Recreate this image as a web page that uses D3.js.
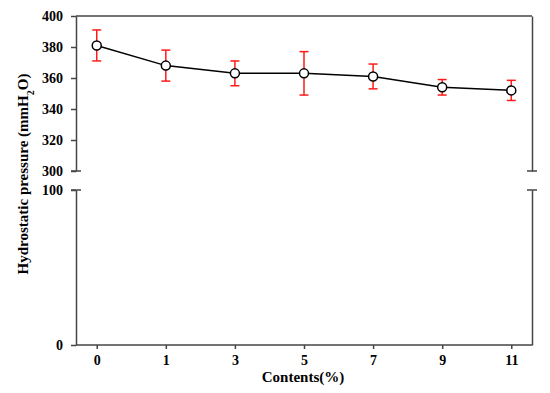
<!DOCTYPE html>
<html>
<head>
<meta charset="utf-8">
<script src="https://cdn.jsdelivr.net/npm/d3@7"></script>
<style>
  body { margin: 0; background: #fff; }
  svg { display: block; }
  .axis text { font-family: "Times New Roman", "Liberation Serif", Times, serif; font-weight: bold; font-size: 14px; fill: #000; }
  .axis path, .axis line { stroke: #444; stroke-width: 1.5px; }
</style>
</head>
<body>
<div id="chart"></div>
<script>
const contents = ["0", "1", "3", "5", "7", "9", "11"];
const pressure = [381, 368, 363, 363, 361, 354, 352];
const errLow  = [10, 10, 8, 14, 8, 5, 6.5];
const errHigh = [10, 10, 8, 14, 8, 5, 6.5];
const upperTicks = [300, 320, 340, 360, 380, 400];
const lowerTicks = [0, 100];

const serif = "'Times New Roman', 'Liberation Serif', Times, serif";

const svg = d3.select("#chart").append("svg")
  .attr("width", 550)
  .attr("height", 393);

const left = 76, right = 532;

const x = d3.scalePoint().domain(contents).range([left, right]).padding(0.3);
const yTop = d3.scaleLinear().domain([300, 400]).range([171, 16]);
const yBot = d3.scaleLinear().domain([0, 100]).range([345, 190]);

// left axes (split)
svg.append("g")
  .attr("class", "axis")
  .attr("transform", `translate(${left},0)`)
  .call(d3.axisLeft(yTop).tickValues(upperTicks).tickSize(5).tickSizeOuter(0).tickPadding(8));

svg.append("g")
  .attr("class", "axis")
  .attr("transform", `translate(${left},0)`)
  .call(d3.axisLeft(yBot).tickValues(lowerTicks).tickSize(5).tickSizeOuter(0).tickPadding(8));

// right axis segments
svg.append("g")
  .attr("class", "axis")
  .attr("transform", `translate(${right},0)`)
  .call(d3.axisRight(yTop).tickValues([]).tickSizeOuter(0));
svg.append("g")
  .attr("class", "axis")
  .attr("transform", `translate(${right},0)`)
  .call(d3.axisRight(yBot).tickValues([]).tickSizeOuter(0));

// top border
svg.append("line")
  .attr("x1", left).attr("x2", right)
  .attr("y1", yTop(400)).attr("y2", yTop(400))
  .attr("stroke", "#444").attr("stroke-width", 1.5);

// bottom axis
svg.append("g")
  .attr("class", "axis")
  .attr("transform", `translate(0,${yBot(0)})`)
  .call(d3.axisBottom(x).tickSize(4).tickSizeOuter(0).tickPadding(6))
  .call(g => g.select(".domain").attr("d", `M${left},0H${right}`));

// break marks
[left, right].forEach(ax => {
  [yTop(300), yBot(100)].forEach(yy => {
    svg.append("line")
      .attr("x1", ax - 5).attr("x2", ax + 5)
      .attr("y1", yy).attr("y2", yy)
      .attr("stroke", "#444").attr("stroke-width", 1.5);
  });
});

// error bars
const eb = svg.append("g").attr("stroke", "#ff1a1a").attr("stroke-width", 1.5);
contents.forEach((c, i) => {
  const cx = x(c);
  const hi = yTop(pressure[i] + errHigh[i]);
  const lo = yTop(pressure[i] - errLow[i]);
  eb.append("line").attr("x1", cx).attr("x2", cx).attr("y1", hi).attr("y2", lo);
  eb.append("line").attr("x1", cx - 4.5).attr("x2", cx + 4.5).attr("y1", hi).attr("y2", hi);
  eb.append("line").attr("x1", cx - 4.5).attr("x2", cx + 4.5).attr("y1", lo).attr("y2", lo);
});

// line
const line = d3.line()
  .x((d, i) => x(contents[i]))
  .y(d => yTop(d));

svg.append("path")
  .datum(pressure)
  .attr("fill", "none")
  .attr("stroke", "#000")
  .attr("stroke-width", 1.5)
  .attr("d", line);

svg.selectAll(".pt")
  .data(pressure)
  .enter().append("circle")
  .attr("class", "pt")
  .attr("cx", (d, i) => x(contents[i]))
  .attr("cy", d => yTop(d))
  .attr("r", 4.5)
  .attr("fill", "#fff")
  .attr("stroke", "#000")
  .attr("stroke-width", 1.5);

// axis titles
const yLabel = svg.append("text")
  .attr("transform", "translate(28,174) rotate(-90)")
  .attr("text-anchor", "middle")
  .style("font-family", serif)
  .style("font-weight", "bold")
  .style("font-size", "15px");
yLabel.append("tspan").text("Hydrostatic pressure (mmH");
yLabel.append("tspan").attr("baseline-shift", "sub").style("font-size", "10px").text("2");
yLabel.append("tspan").text("O)");

svg.append("text")
  .attr("x", 303)
  .attr("y", 382)
  .attr("text-anchor", "middle")
  .style("font-family", serif)
  .style("font-weight", "bold")
  .style("font-size", "15px")
  .text("Contents(%)");
</script>
</body>
</html>
